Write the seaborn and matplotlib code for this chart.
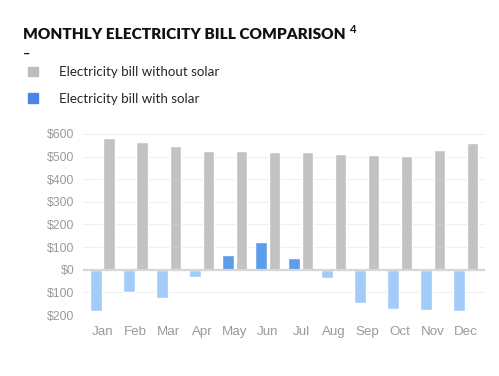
import matplotlib
matplotlib.use("Agg")
import matplotlib.pyplot as plt
import seaborn as sns
import pandas as pd

months = ["Jan", "Feb", "Mar", "Apr", "May", "Jun", "Jul", "Aug", "Sep", "Oct", "Nov", "Dec"]
without_solar = [583, 563, 545, 526, 524, 521, 518, 512, 508, 502, 529, 558]
with_solar = [-181, -98, -124, -32, 65, 124, 52, -38, -147, -173, -178, -181]
series = ["Electricity bill with solar", "Electricity bill without solar"]

df = pd.DataFrame({
	"month": months * 2,
	"bill": with_solar + without_solar,
	"series": [series[0]] * 12 + [series[1]] * 12,
})

sns.set_theme(style="white")
plt.rcParams['font.family'] = ['Liberation Sans', 'DejaVu Sans']

fig = plt.figure(figsize=(4.99, 3.76), dpi=100)
ax = fig.add_axes([0.166, 0.162, 0.806, 0.482])

pal = {series[0]: "#4a86e8", series[1]: "#c2c2c2"}
sns.barplot(data=df, x="month", y="bill", hue="series", hue_order=series,
			palette=pal, width=0.8, gap=0.1, saturation=1, ax=ax, legend=False)

# blue bars: darker above zero, light below
for bar in ax.patches:
	if bar.get_facecolor()[2] > 0.8:
		bar.set_facecolor("#5c9ded" if bar.get_height() > 0 else "#a2cbf8")

ax.set_ylim(-200, 600)
ax.set_xlim(-0.606, 11.58)
ax.set_yticks(range(-200, 601, 100))
ax.set_yticklabels([f"${abs(v)}" for v in range(-200, 601, 100)])
ax.yaxis.grid(True, color="#efefef", lw=0.8)
ax.set_axisbelow(True)
ax.axhline(0, color="#d6d6d6", lw=1.6, zorder=1)
for s in ax.spines.values():
	s.set_visible(False)
ax.tick_params(axis="both", length=0, labelcolor="#9a9a9a")
ax.tick_params(axis="y", pad=6, labelsize=8.8)
ax.tick_params(axis="x", pad=8, labelsize=9.6)
ax.set_xlabel("")
ax.set_ylabel("")

title = fig.text(0.046, 0.896, "MONTHLY ELECTRICITY BILL COMPARISON", family="Lato",
				 fontsize=11.1, fontweight="heavy", color="#111111", va="baseline")
fig.canvas.draw()
bb = title.get_window_extent().transformed(fig.transFigure.inverted())
fig.text(bb.x1 + 0.008, 0.913, "4", family="Lato", fontsize=8, fontweight="bold",
		 color="#111111", va="baseline")
fig.text(0.046, 1 - 54 / 376, "–", family="Lato", fontsize=9, fontweight="bold",
		 color="#111111", va="center")

handles = [plt.Rectangle((0, 0), 1, 1, color="#bdbdbd"), plt.Rectangle((0, 0), 1, 1, color="#4a86e8")]
fig.legend(handles, [series[1], series[0]], loc="upper left", bbox_to_anchor=(0.056, 0.824),
		   frameon=False, borderpad=0, borderaxespad=0, handlelength=0.75, handleheight=0.75,
		   handletextpad=1.6, labelspacing=1.1, prop={"family": "Lato", "size": 9.6})

fig.savefig("out.png", dpi=100)
